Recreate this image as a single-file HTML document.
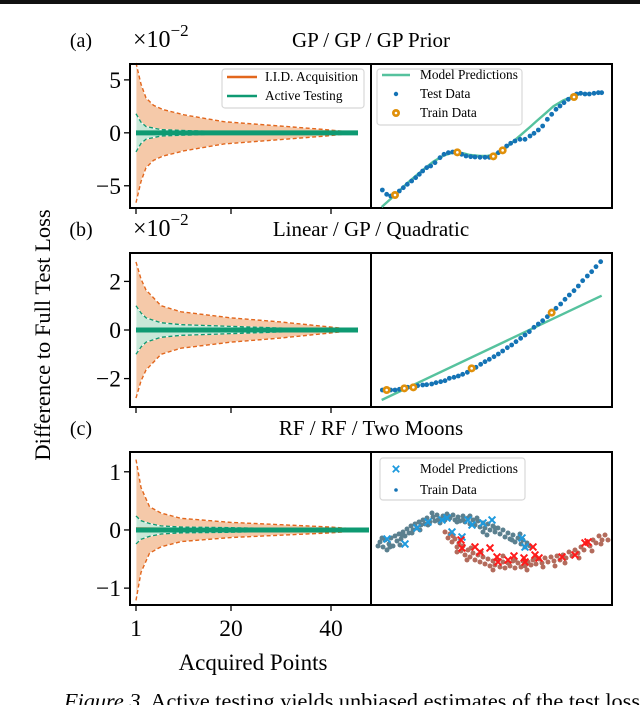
<!DOCTYPE html>
<html><head><meta charset="utf-8"><style>
body{margin:0;background:#fff;}
svg{display:block;font-family:"Liberation Serif",serif;}
</style></head><body>
<svg id="fig" width="640" height="705" viewBox="0 0 640 705">
<rect x="0" y="0" width="640" height="4" fill="#111"/>
<text x="64" y="708" font-size="21" textLength="576" lengthAdjust="spacingAndGlyphs"><tspan font-style="italic">Figure 3.</tspan> Active testing yields unbiased estimates of the test loss</text>
<text transform="translate(50,335) rotate(-90)" font-size="22.5" text-anchor="middle">Difference to Full Test Loss</text>
<text x="253" y="670" font-size="23" text-anchor="middle">Acquired Points</text>
<g id="g"></g>
</svg>
<script>
// ---- data ----
const xTicks=[1,20,40];
const nA=[1,2,3,4.5,6.4,10.6,18.6,31,39,45.4];
const orangeA=[6.6,4.6,3.3,2.6,2.2,1.7,1.05,0.6,0.3,0];
const nGA=[1,2,3,6,15,30,45.4];
const greenA=[1.8,1.0,0.6,0.3,0.15,0.08,0];
const nB=[1,2,3,6,10,20,30,40,45.4];
const orangeB=[2.8,2.1,1.65,1.0,0.75,0.5,0.33,0.12,0];
const greenB=[1.0,0.7,0.5,0.3,0.22,0.15,0.08,0.03,0];
const nC=[1,2,3.7,6,10,20,30,40,47.6];
const orangeC=[1.21,0.73,0.4,0.29,0.2,0.13,0.09,0.05,0];
const greenC=[0.24,0.16,0.11,0.07,0.05,0.04,0.02,0.01,0];
const ticksA=[5,0,-5], ticksB=[2,0,-2], ticksC=[1,0,-1];
const ticksALbl=["5","0","\u22125"], ticksBLbl=["2","0","\u22122"], ticksCLbl=["1","0","\u22121"];
// right panel (a) test/train/model
const testAx=[3.7,5.0,6.2,7.5,8.8,10.0,11.2,12.5,13.7,14.8,15.8,17.0,18.2,19.5,21.0,22.2,23.5,24.8,26.2,27.5,28.8,30.2,31.5,33.0,34.5,35.8,37.2,38.5,39.8,41.0,42.2,43.5,45.0,46.5,48.0,49.2,50.5,51.8,53.2,54.5,55.8,57.0,58.2,59.5,60.8,62.0,63.2,64.5,65.8,67.2,68.5,69.5];
const testAy=[5.7,4.4,3.9,4.2,5.4,6.4,7.4,8.4,9.4,10.4,11.4,12.4,12.9,13.9,15.4,16.4,16.9,17.1,16.9,16.4,15.9,15.7,15.6,15.5,15.5,15.5,15.9,16.9,17.7,18.9,19.7,20.4,20.9,20.9,21.9,22.7,23.7,24.9,26.9,28.4,29.9,30.9,31.9,32.9,33.9,34.5,34.7,34.5,34.5,34.7,34.9,34.9];
const trainAx=[7.5,26.2,37.0,39.8,61.2];
const trainAy=[4.2,17.0,15.8,17.6,33.6];
const modelAx=[3.5,7.5,11,15,19,22,24.5,26.2,28,30,33,35,37,39.8,42,45,48,50,53,55,58,61,63];
const modelAy=[0.6,4.2,7.6,11,14.2,16,16.8,17.0,16.7,16.2,15.9,15.9,16.3,17.6,19.4,22,24.6,26.4,29,30.8,32.6,33.8,34.5];
// right panel (b)
const testBx=[3.7,5.0,6.2,7.5,8.8,10.0,11.3,12.8,14.3,15.8,17.0,18.5,19.8,21.2,22.5,23.8,25.2,26.5,27.8,29.2,30.5,31.8,33.2,34.5,35.8,37.2,38.5,39.8,41.2,42.5,43.8,45.2,46.5,47.8,49.2,50.5,51.8,53.2,54.5,55.8,57.2,58.5,59.8,61.2,62.5,63.8,65.2,66.5,67.8,69.2];
const testBy=[5.1,5.1,5.1,5.1,5.3,5.6,5.9,6.1,6.4,6.6,6.7,6.9,7.3,7.6,7.9,8.6,8.9,9.3,9.8,10.4,11.3,11.9,12.8,13.6,14.3,15.1,15.9,16.8,17.8,18.6,19.6,20.6,21.6,22.6,23.9,24.9,25.9,27.1,28.3,29.6,30.9,32.3,33.6,34.9,36.3,37.9,39.3,40.6,42.1,43.6];
const trainBx=[5.0,10.3,13.0,30.5,54.5];
const trainBy=[5.1,5.6,5.9,11.6,28.3];
const modelBx=[3.5,69.5];
const modelBy=[2.1,33.4];
// right panel (c) two moons
const moonUp=[[5,38],[8,33],[10,40],[12,30],[14,36],[16,42],[18,34],[20,44],[22,39],[24,46],[26,41],[28,48],[30,44],[32,51],[34,47],[36,54],[38,50],[40,56],[42,52],[44,58],[46,55],[48,60],[50,56],[52,62],[55,58],[58,63],[60,59],[62,65],[65,61],[68,64],[70,60],[72,66],[75,62],[78,65],[80,60],[83,63],[85,59],[88,64],[90,58],[93,62],[95,56],[98,60],[100,55],[103,59],[105,53],[108,57],[110,52],[113,56],[115,50],[118,54],[120,48],[123,52],[125,46],[128,50],[130,43],[133,47],[135,41],[138,45],[140,38],[143,42],[146,36],[148,40],[150,33],[152,37],[108,48],[112,45],[25,35],[45,50],[65,57],[95,64],[3,34],[15,33],[27,45],[37,47],[53,55],[63,60],[82,58],[102,62],[120,52],[137,40],[145,46],[155,34],[7,42],[57,67],[88,60]];
const moonLo=[[70,48],[73,42],[75,46],[77,38],[80,41],[82,33],[84,37],[86,29],[88,34],[90,25],[93,30],[95,23],[98,27],[100,20],[103,25],[105,18],[108,23],[110,16],[113,21],[115,14],[118,19],[120,15],[123,20],[125,13],[128,18],[130,12],[133,17],[135,14],[138,19],[140,12],[143,17],[146,13],[148,19],[150,14],[153,18],[156,15],[158,20],[161,16],[164,21],[167,17],[170,22],[173,18],[176,23],[179,19],[182,24],[185,20],[188,25],[191,22],[194,28],[197,24],[200,30],[203,27],[206,33],[209,30],[212,37],[215,34],[218,40],[221,37],[224,44],[227,40],[230,45],[96,32],[128,24],[180,14],[78,44],[92,20],[106,28],[118,10],[140,20],[152,10],[168,13],[190,17],[204,22],[217,29],[226,36],[233,40],[82,28],[160,22]];
const predUp=[[12,41],[30,36],[42,52],[53,58],[67,60],[72,62],[93,60],[97,55],[108,57],[117,60],[77,48],[87,43],[147,42],[150,33]];
const predLo=[[86,40],[87,32],[100,33],[105,28],[115,32],[122,23],[123,18],[133,20],[139,24],[149,22],[150,18],[158,33],[160,25],[164,22],[187,23],[200,25],[210,37],[213,38]];

// ---- drawing ----
const NS="http://www.w3.org/2000/svg";
const G=document.getElementById('g');
function mk(tag,attrs,parent){const e=document.createElementNS(NS,tag);for(const k in attrs)e.setAttribute(k,attrs[k]);(parent||G).appendChild(e);return e;}
function lin(d0,d1,r0,r1){return v=>r0+(v-d0)/(d1-d0)*(r1-r0);}
const ORANGE="#e2671d", GREEN="#0e9a72";
const xL=lin(1,40,136,331);

function leftPanel(name,top,bot,yd0,yd1,n,up,ng,gup,ticks,lbls,xlabels,meanOff){
  const y=lin(yd0,yd1,bot,top);
  const gp=mk('g',{});
  
  
  let pu=n.map((v,i)=>xL(v)+','+y(up[i])), pl=n.map((v,i)=>xL(v)+','+y(-up[i]));
  const band=mk('polygon',{points:pu.concat(pl.slice().reverse()).join(' '),fill:'#f5c9a9',stroke:'#fff','stroke-width':0.8},gp);
  
  
  let gu=ng.map((v,i)=>xL(v)+','+y(gup[i])), gl=ng.map((v,i)=>xL(v)+','+y(-gup[i]));
  const gb=mk('polygon',{points:gu.concat(gl.slice().reverse()).join(' '),fill:'#c9e8d8',stroke:'#fff','stroke-width':0.8},gp);
  
  
  [pu,pl].forEach(p=>{const l=mk('polyline',{points:p.join(' '),fill:'none',stroke:ORANGE,'stroke-width':1.4,'stroke-dasharray':'4,2.5'},gp);
    
    });
  [gu,gl].forEach(p=>{const l=mk('polyline',{points:p.join(' '),fill:'none',stroke:GREEN,'stroke-width':1.3,'stroke-dasharray':'4,2.5'},gp);
    
    });
  const nEnd=n[n.length-1];
  const om=mk('line',{x1:xL(1),x2:xL(nEnd),y1:y(meanOff),y2:y(0),stroke:ORANGE,'stroke-width':2},gp);
  
  
  const gm=mk('line',{x1:xL(1),x2:xL(nEnd),y1:y(0),y2:y(0),stroke:GREEN,'stroke-width':5},gp);
  
  
  const bx=mk('rect',{x:130,y:top,width:241,height:bot-top,fill:'none',stroke:'#000','stroke-width':2});
  
  
  ticks.forEach((t,i)=>{mk('line',{x1:124,x2:130,y1:y(t),y2:y(t),stroke:'#000','stroke-width':1.3});
    const tx=mk('text',{x:121,y:y(t)+8,'font-size':23.5,'text-anchor':'end'});tx.textContent=lbls[i];
    
    });
  xTicks.forEach(t=>{mk('line',{x1:xL(t),x2:xL(t),y1:bot,y2:bot+6,stroke:'#000','stroke-width':1.3});
    if(xlabels){const tx=mk('text',{x:xL(t),y:bot+31,'font-size':23.5,'text-anchor':'middle'});tx.textContent=String(t);
      
      }});
}
function rightFrame(name,top,bot){
  const bx=mk('rect',{x:371,y:top,width:241,height:bot-top,fill:'none',stroke:'#000','stroke-width':2});
  
  
}
function title(name,lbl,txt,top,mult){
  const a=mk('text',{x:81,y:top-17,'font-size':20,'text-anchor':'middle'});a.textContent=lbl;
  
  
  const t=mk('text',{x:371,y:top-17,'font-size':21,'text-anchor':'middle'});t.textContent=txt;
  
  
  if(mult){const m=mk('text',{x:133,y:top-17,'font-size':24});m.innerHTML='\u00d710<tspan font-size="17" dy="-11">\u22122</tspan>';
    
    }
}
function dotTrain(x,y,parent){mk('circle',{cx:x,cy:y,r:4,fill:'#e0900a'},parent);mk('circle',{cx:x,cy:y,r:1.3,fill:'#fff'},parent);}
function legendBox(x,y,w,h,name){const r=mk('rect',{x:x,y:y,width:w,height:h,rx:3,fill:'#fff','fill-opacity':0.85,stroke:'#d8d8d8','stroke-width':1.2});
  
  }
function ltext(x,y,s,name){const t=mk('text',{x:x,y:y,'font-size':13.3});t.textContent=s;
  
  }

// panel a
title('panel-a','(a)','GP / GP / GP Prior',64,true);
leftPanel('panel-a',64,208,-7.1,6.5,nA,orangeA,nGA,greenA,ticksA,ticksALbl,false,0);
rightFrame('panel-a',64,208);
(function(){
  const x=lin(0.3,72.6,371,612), y=lin(0,42.9,209,66);
  const g=mk('g',{});
  
  
  const ml=mk('polyline',{points:modelAx.map((v,i)=>x(v)+','+y(modelAy[i])).join(' '),fill:'none',stroke:'#56c29e','stroke-width':2.4},g);
  
  
  testAx.forEach((v,i)=>{const c=mk('circle',{cx:x(v),cy:y(testAy[i]),r:2.4,fill:'#1473b5'},g);
    
    });
  trainAx.forEach((v,i)=>dotTrain(x(v),y(trainAy[i]),g));
})();
legendBox(222,69,142,39,'panel-a-left-legend');
mk('line',{x1:227,x2:257,y1:77,y2:77,stroke:ORANGE,'stroke-width':2.6});
ltext(265,81,'I.I.D. Acquisition','legend-iid');
mk('line',{x1:227,x2:257,y1:96,y2:96,stroke:GREEN,'stroke-width':2.6});
ltext(265,100,'Active Testing','legend-active');
legendBox(377,69,145,56,'panel-a-right-legend');
mk('line',{x1:382,x2:410,y1:75,y2:75,stroke:'#56c29e','stroke-width':2.4});
ltext(420,79,'Model Predictions','legend-model');
mk('circle',{cx:396,cy:94,r:2.2,fill:'#1473b5'});
ltext(420,98,'Test Data','legend-test');
dotTrain(396,113);
ltext(420,117,'Train Data','legend-train');

// panel b
title('panel-b','(b)','Linear / GP / Quadratic',253,true);
leftPanel('panel-b',253,407,-3.17,3.17,nB,orangeB,nB,greenB,ticksB,ticksBLbl,false,0);
rightFrame('panel-b',253,407);
(function(){
  const x=lin(0.3,72.6,371,612), y=lin(0,46.2,407,253);
  const g=mk('g',{});
  
  
  const ml=mk('polyline',{points:modelBx.map((v,i)=>x(v)+','+y(modelBy[i])).join(' '),fill:'none',stroke:'#56c29e','stroke-width':2.4},g);
  
  
  testBx.forEach((v,i)=>{const c=mk('circle',{cx:x(v),cy:y(testBy[i]),r:2.4,fill:'#1473b5'},g);
    
    });
  trainBx.forEach((v,i)=>dotTrain(x(v),y(trainBy[i]),g));
})();

// panel c
title('panel-c','(c)','RF / RF / Two Moons',452,false);
leftPanel('panel-c',452,605,-1.29,1.34,nC,orangeC,nC,greenC,ticksC,ticksCLbl,true,0.03);
rightFrame('panel-c',452,605);
(function(){
  const x=lin(-4,237,371,612), y=lin(-25,129,605,451);
  const g=mk('g',{});
  
  
  moonUp.forEach(p=>{const c=mk('circle',{cx:x(p[0]),cy:y(p[1]),r:2.5,fill:'#5b808f'},g);
    
    });
  moonLo.forEach(p=>{const c=mk('circle',{cx:x(p[0]),cy:y(p[1]),r:2.5,fill:'#b36b5c'},g);
    
    });
  function cross(px,py,col){const s=3.4;
    mk('path',{d:`M${px-s},${py-s}L${px+s},${py+s}M${px-s},${py+s}L${px+s},${py-s}`,stroke:col,'stroke-width':2,fill:'none'},g);}
  predUp.forEach(p=>cross(x(p[0]),y(p[1]),'#1e9ade'));
  predLo.forEach(p=>cross(x(p[0]),y(p[1]),'#ff1a1a'));
})();
legendBox(380,458,145,42,'panel-c-legend');
(function(){const s=3.2,px=396,py=469;mk('path',{d:`M${px-s},${py-s}L${px+s},${py+s}M${px-s},${py+s}L${px+s},${py-s}`,stroke:'#1e9ade','stroke-width':1.8});})();
ltext(420,473,'Model Predictions','legend-c-model');
mk('circle',{cx:396,cy:490,r:1.8,fill:'#1473b5'});
ltext(420,494,'Train Data','legend-c-train');
</script>
</body></html>
